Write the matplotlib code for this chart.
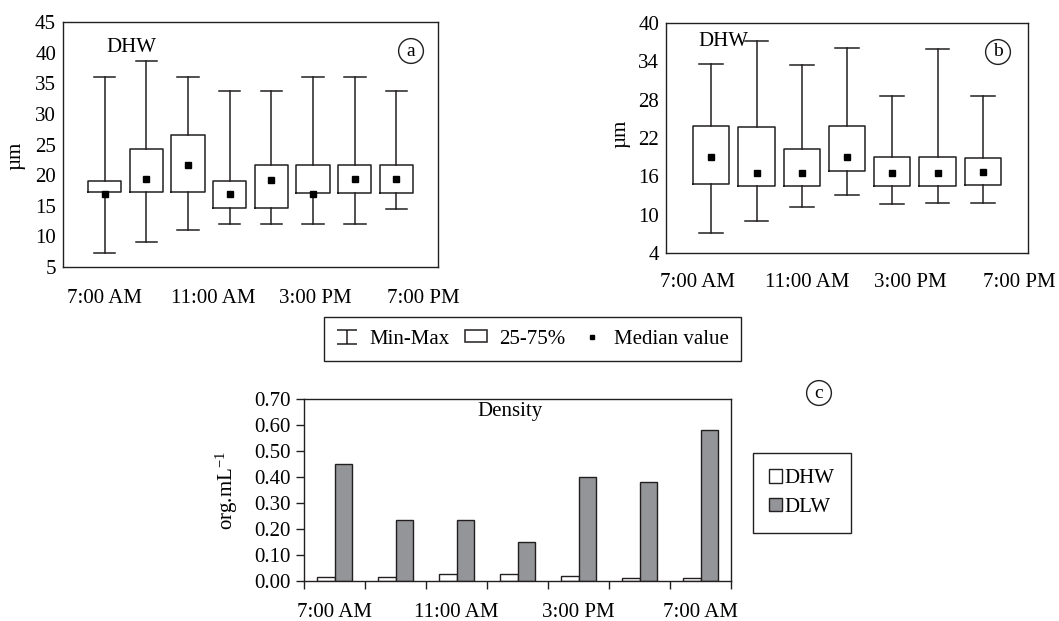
import numpy as np
import matplotlib
matplotlib.use('Agg')
import matplotlib.pyplot as plt
from matplotlib.lines import Line2D
from matplotlib.patches import Patch
from matplotlib.path import Path

plt.rcParams.update({'font.family': ['Liberation Serif', 'DejaVu Serif'],
                     'font.size': 15,
                     'mathtext.fontset': 'custom',
                     'mathtext.rm': 'Liberation Serif',
                     'mathtext.it': 'Liberation Serif:italic',
                     'axes.linewidth': 1.0,
                     'axes.edgecolor': '#231f20'})

ink = '#231f20'

# panel (a) DHW, um
a_max = [36.1, 38.6, 36.1, 33.7, 33.7, 36.1, 36.1, 33.7]
a_q3 = [19.1, 24.2, 26.5, 19.1, 21.7, 21.6, 21.6, 21.6]
a_med = [16.9, 19.4, 21.7, 16.9, 19.2, 17.0, 19.3, 19.3]
a_q1 = [17.2, 17.2, 17.2, 14.7, 14.7, 17.1, 17.1, 17.1]
a_min = [7.3, 9.1, 11.1, 12.1, 12.0, 12.1, 12.1, 14.5]
a_labels = ['7:00 AM', '11:00 AM', '3:00 PM', '7:00 PM']

# panel (b) DHW, um
b_max = [33.5, 37.1, 33.4, 36.0, 28.5, 35.9, 28.6]
b_q3 = [23.8, 23.7, 20.3, 23.9, 19.0, 19.0, 18.95]
b_med = [19.0, 16.6, 16.6, 19.0, 16.6, 16.6, 16.7]
b_q1 = [14.8, 14.5, 14.5, 16.9, 14.5, 14.45, 14.7]
b_min = [7.1, 9.0, 11.2, 13.15, 11.75, 11.85, 11.9]
b_labels = ['7:00 AM', '11:00 AM', '3:00 PM', '7:00 PM']

# panel (c) density, org/mL
c_dhw = [0.017, 0.017, 0.026, 0.026, 0.018, 0.012, 0.013]
c_dlw = [0.451, 0.234, 0.234, 0.151, 0.402, 0.383, 0.582]
c_labels = ['7:00 AM', '11:00 AM', '3:00 PM', '7:00 AM']

W, H = 1059, 621
fig = plt.figure(figsize=(W / 100, H / 100), dpi=100)


def px_axes(x0, y0, x1, y1):
    return fig.add_axes([x0 / W, 1 - y1 / H, (x1 - x0) / W, (y1 - y0) / H])


def boxpanel(ax, vmin, q1, med, q3, vmax, msize):
    stats = [dict(whislo=lo, q1=a, med=m, q3=b, whishi=hi)
             for lo, a, m, b, hi in zip(vmin, q1, med, q3, vmax)]
    pos = np.arange(len(stats))
    lp = dict(color=ink, linewidth=1.1)
    ax.bxp(stats, positions=pos, widths=0.8, capwidths=0.52, showfliers=False,
           boxprops=lp, whiskerprops=lp, capprops=lp,
           medianprops=dict(visible=False), manage_ticks=False)
    ax.plot(pos, med, 's', color='black', markersize=msize, zorder=5)
    ax.set_xlim(-1, len(stats))
    ax.tick_params(axis='y', length=0, pad=5)
    ax.set_ylabel('µm', fontsize=15)


# (a)
ax1 = px_axes(63, 22, 438, 267)
boxpanel(ax1, a_min, a_q1, a_med, a_q3, a_max, 5)
ax1.set_ylim(5, 45)
ax1.set_yticks(np.arange(5, 46, 5))
ax1.set_xticks([0, 2.6, 5.05, 7.64])
ax1.set_xticklabels(a_labels)
ax1.tick_params(axis='x', length=0, pad=16)
ax1.text(0.65, 40.9, 'DHW', ha='center', va='center')
ax1.yaxis.set_label_coords(-0.101, 0.453)

# (b)
ax2 = px_axes(666, 22.7, 1028, 253.3)
boxpanel(ax2, b_min, b_q1, b_med, b_q3, b_max, 4)
ax2.set_ylim(4, 40)
ax2.set_yticks(np.arange(4, 41, 6))
ax2.set_xticks([-0.3, 2.13, 4.4, 6.8])
ax2.set_xticklabels(b_labels)
ax2.tick_params(axis='x', length=0, pad=14)
ax2.text(0.26, 37.0, 'DHW', ha='center', va='center')
ax2.yaxis.set_label_coords(-0.0995, 0.517)

# (c)
ax3 = px_axes(304.3, 399.3, 731, 581)
xc = np.arange(len(c_dlw))
bw = 0.29
ax3.bar(xc - bw / 2, c_dhw, bw, color='white', edgecolor=ink, linewidth=1.0, label='DHW')
ax3.bar(xc + bw / 2, c_dlw, bw, color='#939598', edgecolor=ink, linewidth=1.0, label='DLW')
ax3.set_xlim(-0.5, len(xc) - 0.5)
ax3.set_ylim(0, 0.70)
ax3.set_yticks(np.arange(0, 0.71, 0.1))
ax3.set_yticklabels(['%.2f' % v for v in np.arange(0, 0.71, 0.1)])
ax3.set_xticks([0, 2, 4, 6])
ax3.set_xticklabels(c_labels)
ax3.set_xticks(np.arange(-0.5, len(xc), 1), minor=True)
ax3.tick_params(axis='x', which='major', length=0, pad=16)
ax3.tick_params(axis='x', which='minor', length=6, width=1.0, color=ink)
ax3.tick_params(axis='y', length=6, width=1.0, color=ink, pad=4)
ax3.text(0.483, 0.932, 'Density', transform=ax3.transAxes, ha='center', va='center')
ax3.set_ylabel('org.mL$^{-1}$', fontsize=15)
ax3.yaxis.set_label_coords(-0.151, 0.5)

# circled panel letters
for lab, x, y in [('a', 411, 51), ('b', 998, 52), ('c', 819, 393)]:
    fig.text(x / W, 1 - y / H, lab, ha='center', va='center', fontsize=14,
             bbox=dict(boxstyle='circle,pad=0.2', fc='white', ec=ink, lw=1.0))

# box plot legend
ibeam = Path([(-1.3, 0.9), (1.3, 0.9), (0, 0.9), (0, -0.9), (-1.3, -0.9), (1.3, -0.9)],
             [Path.MOVETO, Path.LINETO, Path.MOVETO, Path.LINETO, Path.MOVETO, Path.LINETO])
handles = [Line2D([], [], marker=ibeam, linestyle='none', markersize=14,
                  markeredgecolor=ink, markerfacecolor='none', markeredgewidth=1.1),
           Patch(facecolor='white', edgecolor=ink, linewidth=1.1),
           Line2D([], [], marker='s', linestyle='none', markersize=3.5, color='black')]
leg = fig.legend(handles, ['Min-Max', '25-75%', 'Median value'], ncol=3,
                 loc='center', bbox_to_anchor=(532.5 / W, 1 - 339 / H),
                 fancybox=False, edgecolor=ink, framealpha=1, fontsize=15,
                 handlelength=1.05, handleheight=0.5, handletextpad=0.55,
                 columnspacing=0.75, borderpad=0.6)
leg.get_frame().set_linewidth(1.0)

# density legend
h3, l3 = ax3.get_legend_handles_labels()
leg2 = fig.legend(h3, l3, loc='center', bbox_to_anchor=(802 / W, 1 - 493 / H),
                  fancybox=False, edgecolor=ink, framealpha=1, fontsize=15,
                  handlelength=0.6, handleheight=0.6, handletextpad=0.15,
                  labelspacing=0.45, borderpad=0.8)
leg2.get_frame().set_linewidth(1.0)

fig.savefig('out.png', dpi=100)
